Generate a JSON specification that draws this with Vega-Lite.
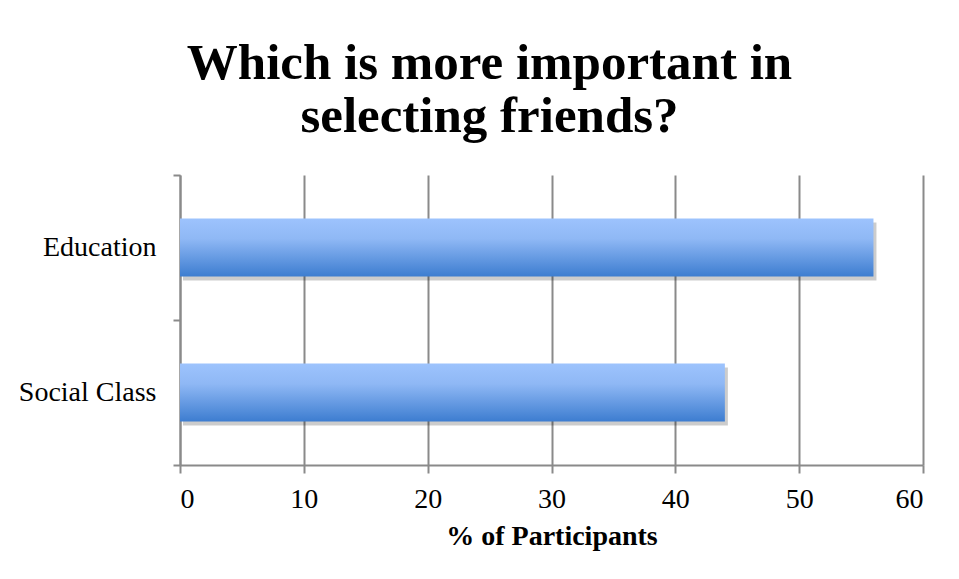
{
  "$schema": "https://vega.github.io/schema/vega-lite/v6.json",
  "width": 743,
  "height": 290,
  "autosize": {"type": "none"},
  "padding": {"left": 180, "top": 175, "right": 36, "bottom": 114},
  "background": "white",
  "config": {"view": {"stroke": null}},
  "title": {
    "text": ["Which is more important in", "selecting friends?"],
    "font": "Liberation Serif",
    "fontSize": 51,
    "fontWeight": "bold",
    "color": "black",
    "anchor": "middle",
    "dx": -62,
    "lineHeight": 53,
    "offset": 18
  },
  "data": {
    "values": [
      {"category": "Education", "percent": 56},
      {"category": "Social Class", "percent": 44}
    ]
  },
  "encoding": {
    "y": {
      "field": "category",
      "type": "nominal",
      "sort": ["Education", "Social Class"],
      "scale": {"paddingInner": 0, "paddingOuter": 0},
      "axis": {
        "title": null,
        "tickBand": "extent",
        "domainColor": "#8a8a8a",
        "domainWidth": 2,
        "tickColor": "#8a8a8a",
        "tickWidth": 2,
        "tickSize": 7,
        "labelFont": "Liberation Serif",
        "labelFontSize": 28,
        "labelColor": "black",
        "labelPadding": 17,
        "grid": false
      }
    },
    "x": {
      "field": "percent",
      "type": "quantitative",
      "scale": {"domain": [0, 60], "nice": false},
      "axis": {
        "values": [0, 10, 20, 30, 40, 50, 60],
        "title": "% of Participants",
        "titleFont": "Liberation Serif",
        "titleFontSize": 28,
        "titleFontWeight": "bold",
        "titleColor": "black",
        "titlePadding": 9,
        "domainColor": "#8a8a8a",
        "domainWidth": 2,
        "tickColor": "#8a8a8a",
        "tickWidth": 2,
        "tickSize": 8,
        "grid": true,
        "gridColor": "#8a8a8a",
        "gridWidth": 2,
        "gridOpacity": 1,
        "labelFont": "Liberation Serif",
        "labelFontSize": 28,
        "labelColor": "black",
        "labelPadding": 12
      }
    }
  },
  "layer": [
    {
      "mark": {"type": "bar", "color": "#000000", "opacity": 0.2, "xOffset": 3, "yOffset": 4, "height": {"band": 0.4}}
    },
    {
      "mark": {
        "type": "bar",
        "height": {"band": 0.4},
        "color": {
          "gradient": "linear",
          "x1": 0, "y1": 0, "x2": 0, "y2": 1,
          "stops": [
            {"offset": 0, "color": "#9dc3fd"},
            {"offset": 0.35, "color": "#8fb8f5"},
            {"offset": 1, "color": "#3d7dd0"}
          ]
        }
      }
    }
  ]
}
